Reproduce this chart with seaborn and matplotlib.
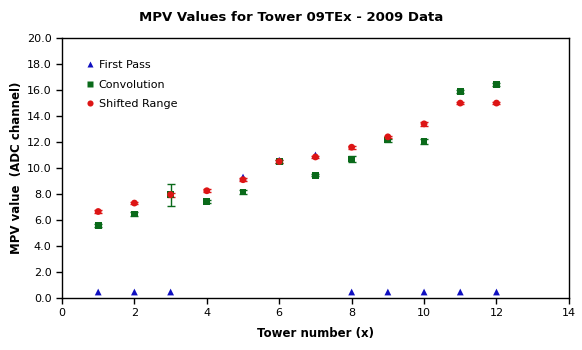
import numpy as np
import pandas as pd
import seaborn as sns
import matplotlib.pyplot as plt

# Values
towers = [1, 2, 3, 4, 5, 6, 7, 8, 9, 10, 11, 12]
first_pass = [0.45, 0.45, 0.45, np.nan, 9.3, 10.6, 11.0, 0.45, 0.45, 0.45, 0.45, 0.45]
convolution = [5.6, 6.45, 7.95, 7.4, 8.15, 10.5, 9.45, 10.7, 12.15, 12.05, 15.9, 16.45]
conv_err = [0.12, 0.15, 0.85, 0.12, 0.12, 0.1, 0.1, 0.25, 0.12, 0.22, 0.1, 0.1]
shifted = [6.65, 7.3, 7.95, 8.25, 9.1, 10.5, 10.85, 11.6, 12.4, 13.4, 15.0, 15.0]
shift_err = [0.1, 0.1, 0.15, 0.1, 0.1, 0.1, 0.1, 0.1, 0.1, 0.18, 0.1, 0.1]

series = ["First Pass", "Convolution", "Shifted Range"]
colors = {"First Pass": "#1010C0", "Convolution": "#0A6A1A", "Shifted Range": "#DD1515"}
markers = {"First Pass": "^", "Convolution": "s", "Shifted Range": "o"}

df = pd.DataFrame({
    "tower": towers * 3,
    "mpv": first_pass + convolution + shifted,
    "series": sum([[s] * len(towers) for s in series], []),
}).dropna()

sns.set_style("white")
plt.rcParams["font.family"] = ["DejaVu Sans"]
plt.rcParams.update({"text.color": "black", "axes.labelcolor": "black",
                     "xtick.color": "black", "ytick.color": "black"})

fig = plt.figure(figsize=(5.82, 3.5), dpi=100)
ax = fig.add_axes([0.1065, 0.149, 0.871, 0.742])

# error bars first so markers sit on top
for vals, errs, s in [(convolution, conv_err, "Convolution"), (shifted, shift_err, "Shifted Range")]:
    ax.errorbar(towers, vals, yerr=errs, fmt="none", ecolor=colors[s],
                elinewidth=1, capsize=3, capthick=1, zorder=2)

sns.scatterplot(data=df, x="tower", y="mpv", hue="series", style="series",
                hue_order=series, style_order=series, palette=colors,
                markers=markers, s=24, edgecolor="none", ax=ax, zorder=3)

ax.set_xlim(0, 14)
ax.set_ylim(0, 20)
ax.set_xticks(range(0, 15, 2))
ax.set_yticks(np.arange(0, 20.1, 2))
ax.set_yticklabels([f"{v:.1f}" for v in np.arange(0, 20.1, 2)])
ax.tick_params(axis="both", direction="out", length=4, width=1, labelsize=8,
               left=True, bottom=True, color="black")
for sp in ax.spines.values():
    sp.set_color("black")
    sp.set_linewidth(1)

ax.set_xlabel("Tower number (x)", fontsize=8.5, fontweight="bold", labelpad=6)
ax.set_ylabel("MPV value  (ADC channel)", fontsize=8.5, fontweight="bold", labelpad=3)
ax.set_title("MPV Values for Tower 09TEx - 2009 Data", fontsize=9.5, fontweight="bold",
             pad=12, x=0.452)

leg = ax.legend(loc="upper left", frameon=False, fontsize=8, handletextpad=0.3,
                borderaxespad=1.6, labelspacing=0.85, handlelength=1, markerscale=0.9)

fig.savefig("out.png", dpi=100)
